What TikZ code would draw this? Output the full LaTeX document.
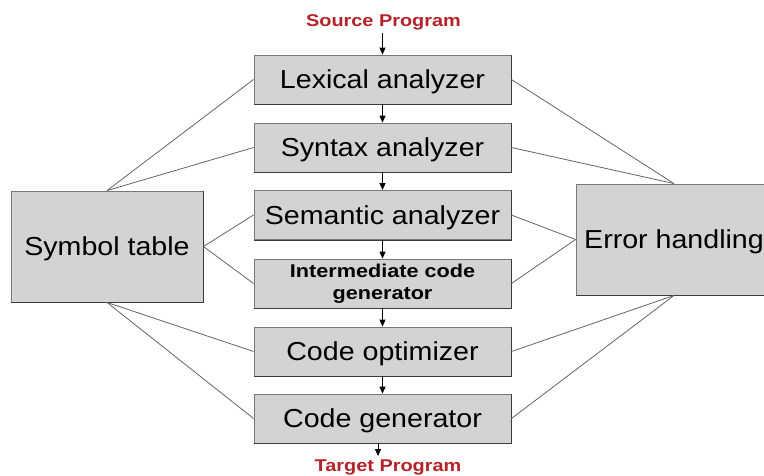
\documentclass[tikz,border=0pt]{standalone}
\usepackage{fontspec}
\setmainfont{Liberation Sans}[FakeStretch=1.1]
\newfontfamily\tagfont{Liberation Sans}[FakeStretch=1.17]
\usetikzlibrary{arrows.meta}
\definecolor{boxfill}{RGB}{211,211,211}
\definecolor{boxedge}{RGB}{120,120,120}
\definecolor{boxshade}{RGB}{60,60,60}
\definecolor{linkgray}{RGB}{100,100,100}
\definecolor{progred}{RGB}{180,35,40}
\begin{document}
\begin{tikzpicture}[x=1pt,y=-1pt,
  box/.style={draw=boxedge, fill=boxfill, line width=0.9pt,
    minimum width=257pt, minimum height=49pt, inner sep=0pt},
  phase/.style={box, font=\fontsize{26}{30}\selectfont,
    text height=18.6pt, text depth=0pt},
  side/.style={phase, minimum height=111pt},
  tag/.style={text=progred, font=\tagfont\bfseries\fontsize{17}{20}\selectfont,
    inner sep=0pt, text height=12pt, text depth=0pt},
  flow/.style={-{Triangle[length=7pt,width=6pt]}, line width=0.9pt, black},
  link/.style={draw=linkgray, line width=0.8pt},
  edge shade/.style={draw=boxshade, line width=0.9pt}]
\useasboundingbox (0,0) rectangle (764,475);
\clip (0,0) rectangle (764,475);

% compiler phases
\node[phase] (lex) at (382.5,79.5)  {Lexical analyzer};
\node[phase] (syn) at (382.5,147.5) {Syntax analyzer};
\node[phase] (sem) at (382.5,215)   {Semantic analyzer};
\node[box, align=center, font=\tagfont\bfseries\fontsize{18.5}{22}\selectfont]
  (icg) at (382.5,283.5) {Intermediate code\\generator};
\node[phase] (opt) at (382.5,351.5) {Code optimizer};
\node[phase] (gen) at (382.5,418.5) {Code generator};

% side components
\node[side, minimum width=192pt] (sym) at (107,246.5) {Symbol table};
\node[side, minimum width=196pt] (err) at (674,239.5) {Error handling};

% darker lower and right edges
\foreach \n in {lex,syn,sem,icg,opt,gen,sym,err}
  \draw[edge shade] (\n.south west) -- (\n.south east) -- (\n.north east);

% input and output
\node[tag] (src) at (383.5,20)  {Source Program};
\node[tag] (tgt) at (388,465) {Target Program};
\coordinate (tgtin) at (378,456);

% main flow
\draw[flow] (lex.north |- src.south) ++(0,7) -- (lex.north);
\draw[flow] (lex) -- (syn);
\draw[flow] (syn) -- (sem);
\draw[flow] (sem) -- (icg);
\draw[flow] (icg) -- (opt);
\draw[flow] (opt) -- (gen);
\draw[flow] (gen.south -| tgtin) -- (tgtin);

% links to the symbol table
\draw[link] (sym.north) -- (lex.west);
\draw[link] (sym.north) -- (syn.west);
\draw[link] (sym.east)  -- (sem.west);
\draw[link] (sym.east)  -- (icg.west);
\draw[link] (sym.south) -- (opt.west);
\draw[link] (sym.south) -- (gen.west);

% links to error handling
\draw[link] (err.north) -- (lex.east);
\draw[link] (err.north) -- (syn.east);
\draw[link] (err.west)  -- (sem.east);
\draw[link] (err.west)  -- (icg.east);
\draw[link] (err.south) -- (opt.east);
\draw[link] (err.south) -- (gen.east);
\end{tikzpicture}
\end{document}
